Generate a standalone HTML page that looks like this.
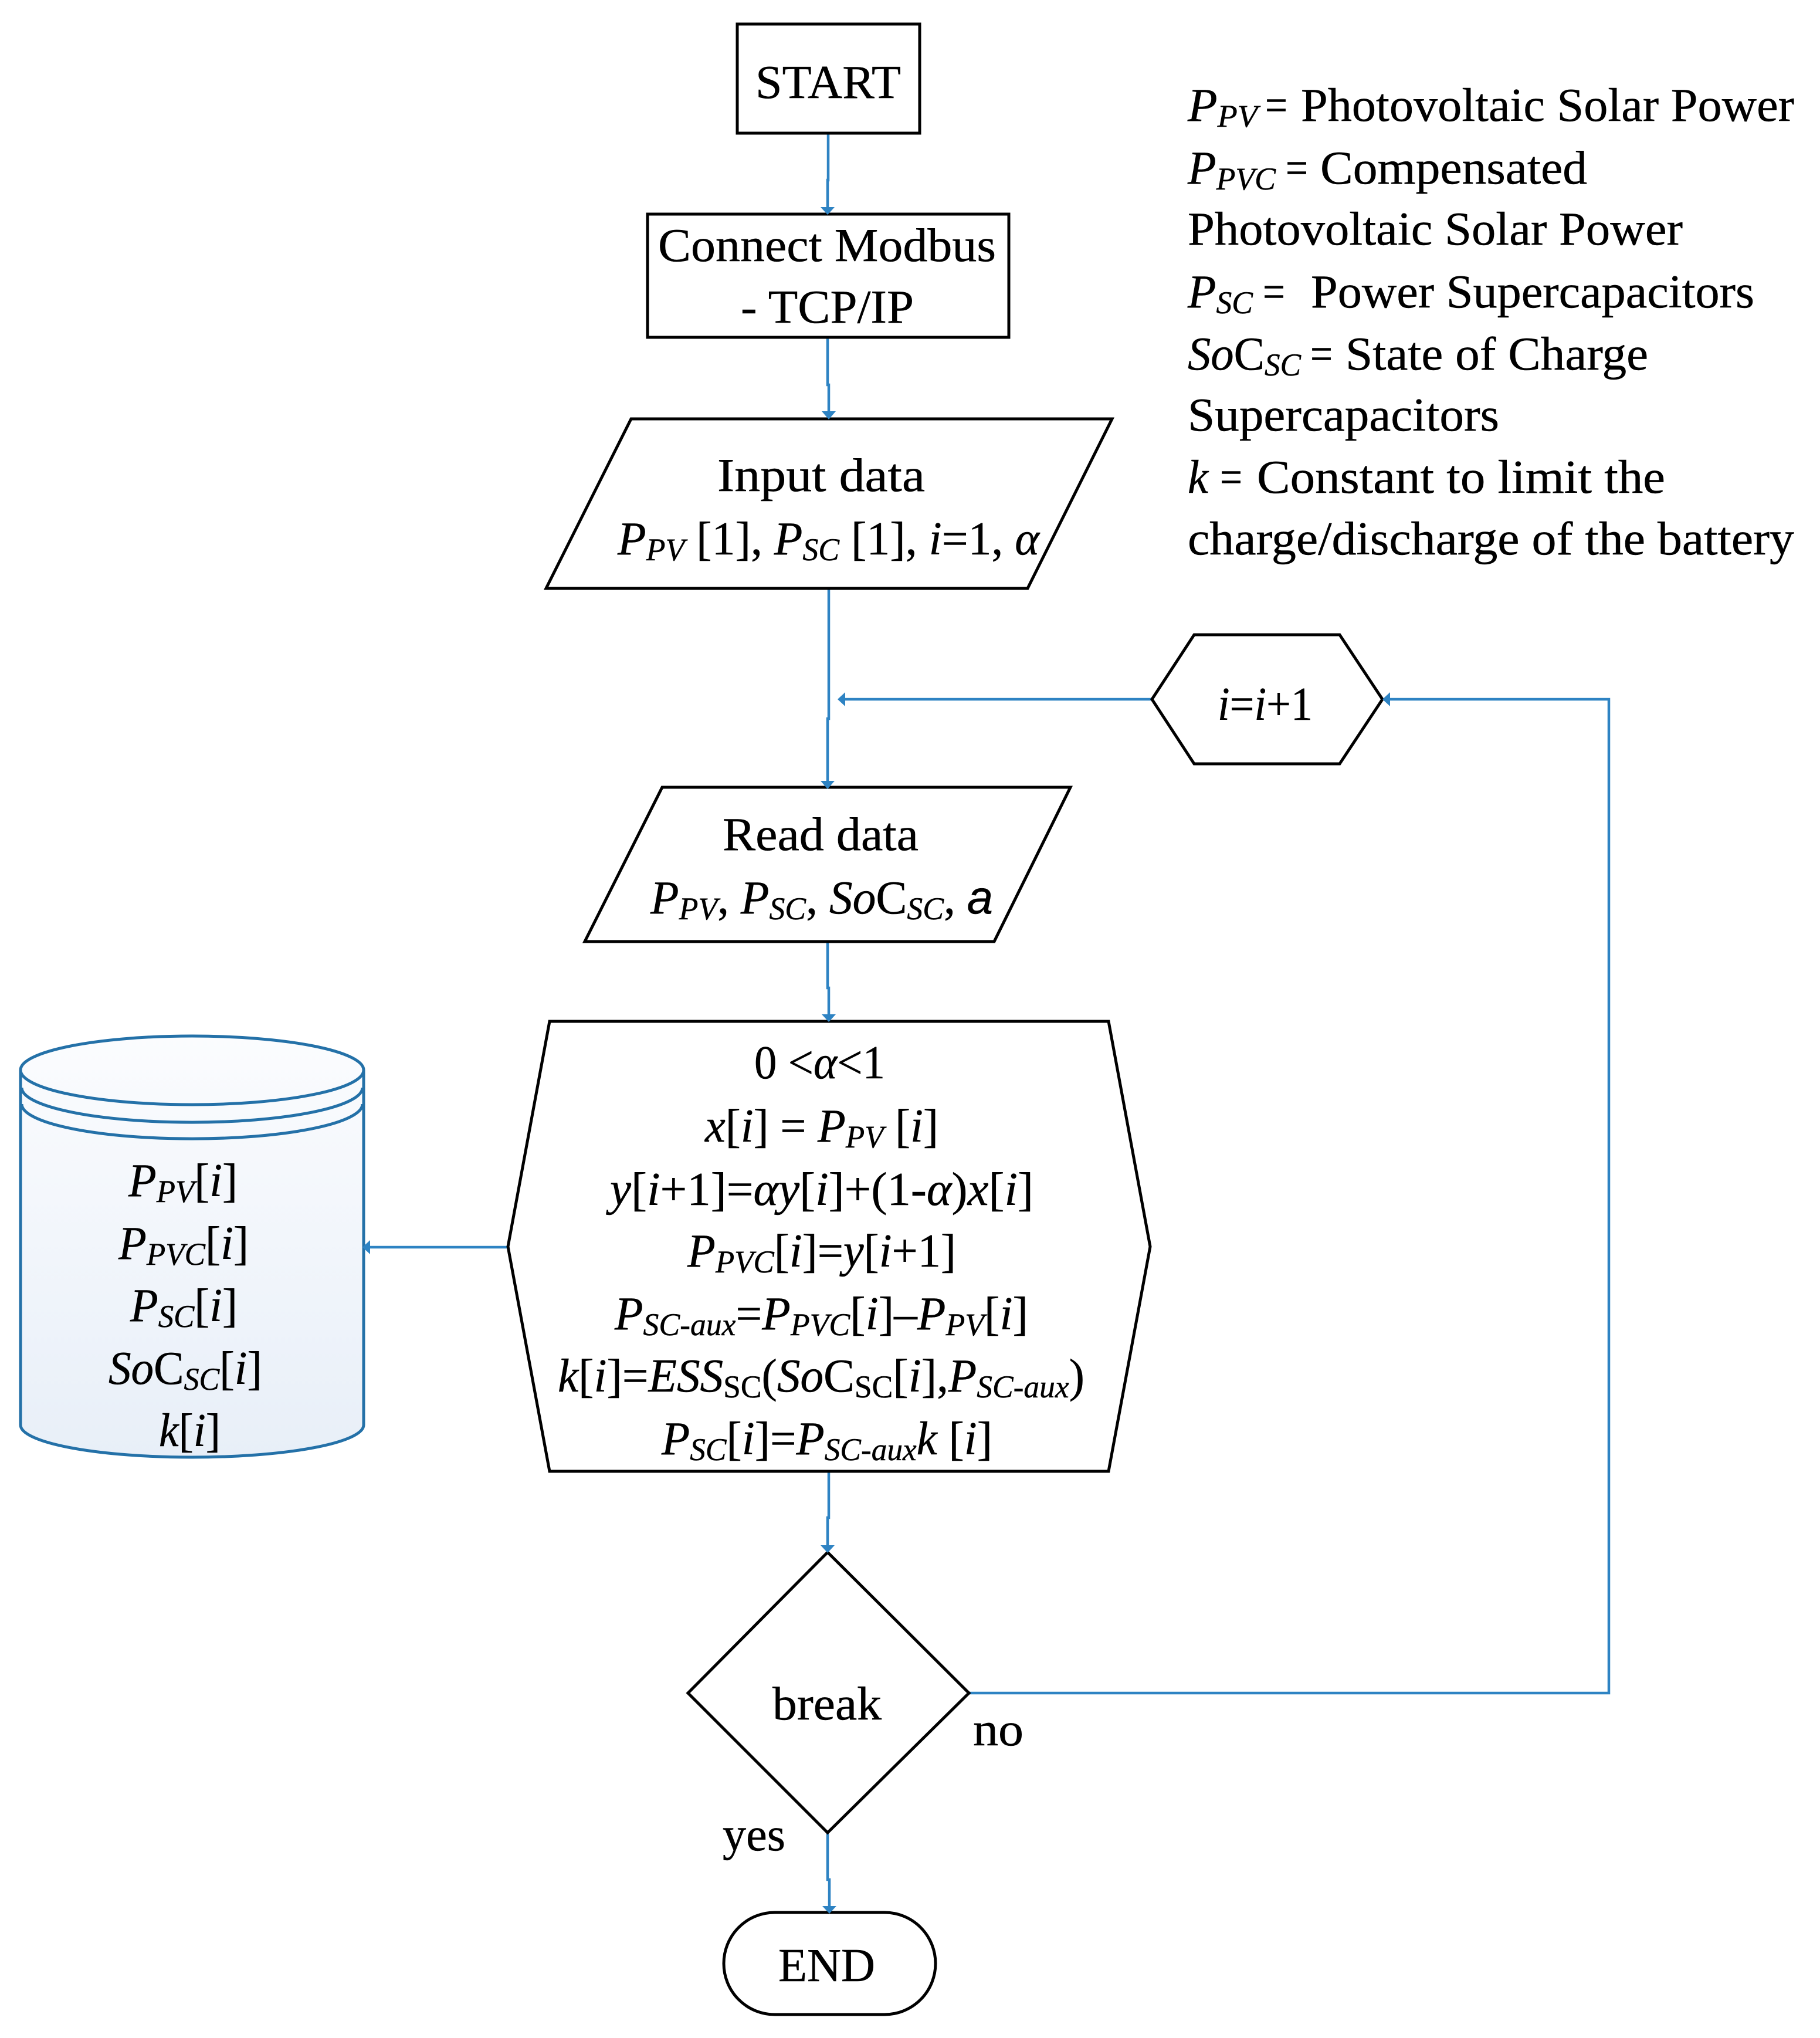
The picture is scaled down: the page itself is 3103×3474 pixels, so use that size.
<!DOCTYPE html>
<html lang="en"><head><meta charset="utf-8"><title>Flowchart</title>
<style>
html,body{margin:0;padding:0;background:#fff}
svg{display:block}
text{font-family:"Liberation Serif",serif;font-size:80px;fill:#000;stroke:#000;stroke-width:.5}
.i{font-style:italic}
.s{font-size:54px;font-style:italic}
.n{font-size:54px}
.c{fill:none;stroke:#2e83c3;stroke-width:4.5}
.b{fill:#fff;stroke:#000;stroke-width:5;stroke-linejoin:miter}
.a{fill:#2e83c3}
.cy{stroke:#2471a8;stroke-width:5}
</style></head><body>
<svg xmlns="http://www.w3.org/2000/svg" width="3103" height="3474" viewBox="0 0 3103 3474">
<defs><linearGradient id="g" x1="0" y1="0" x2="0" y2="1"><stop offset="0" stop-color="#fbfcfe"/><stop offset="1" stop-color="#e8eff8"/></linearGradient></defs>
<rect width="3103" height="3474" fill="#fff"/>

<!-- connectors -->
<path class="c" d="M1412 228V307H1411V355"/>
<path class="c" d="M1411 575V656H1413V703"/>
<path class="c" d="M1413 1003V1225H1411V1333"/>
<path class="c" d="M1964 1192H1438"/>
<path class="c" d="M1411 1605V1684H1413V1731"/>
<path class="c" d="M1413 2508V2587H1411V2636"/>
<path class="c" d="M1411 3124V3204H1414V3251"/>
<path class="c" d="M866 2126H628"/>
<path class="c" d="M1652 2886H2743V1192H2367"/>

<!-- shapes -->
<rect class="b" x="1257" y="41" width="311" height="186"/>
<rect class="b" x="1104" y="365" width="616" height="210"/>
<polygon class="b" points="1076,714 1896,714 1752,1003 931,1003"/>
<polygon class="b" points="1964,1192 2036,1082 2284,1082 2357,1192 2284,1302 2036,1302"/>
<polygon class="b" points="1129,1342 1825,1342 1695,1605 997,1605"/>
<polygon class="b" points="937,1741 1890,1741 1961,2125 1890,2508 937,2508 866,2125"/>
<polygon class="b" points="1411,2646 1652,2886 1411,3124 1173,2886"/>
<rect class="b" x="1234" y="3260" width="361" height="174" rx="87" ry="87"/>

<!-- cylinder -->
<path class="cy" fill="url(#g)" d="M35 1824A292.5 58 0 0 1 620 1824V2429A292.5 55 0 0 1 35 2429Z"/>
<path class="cy" fill="none" d="M35 1824A292.5 59 0 0 0 620 1824"/>
<path class="cy" fill="none" d="M37 1854A290 59 0 0 0 618 1854"/>
<path class="cy" fill="none" d="M37 1882A290 59 0 0 0 618 1882"/>

<!-- arrowheads -->
<polygon class="a" points="1399,353 1423,353 1411,366"/>
<polygon class="a" points="1401,701 1425,701 1413,715"/>
<polygon class="a" points="1399,1331 1423,1331 1411,1345"/>
<polygon class="a" points="1441,1180 1441,1204 1428,1192"/>
<polygon class="a" points="1401,1729 1425,1729 1413,1742"/>
<polygon class="a" points="1399,2634 1423,2634 1411,2647"/>
<polygon class="a" points="1402,3249 1426,3249 1414,3262"/>
<polygon class="a" points="631,2114 631,2138 618,2126"/>
<polygon class="a" points="2370,1180 2370,1204 2357,1192"/>

<!-- labels -->
<text x="1288" y="167" textLength="248" lengthAdjust="spacingAndGlyphs">START</text>
<text x="1122" y="445" textLength="576" lengthAdjust="spacingAndGlyphs">Connect Modbus</text>
<text x="1263" y="550" textLength="295" lengthAdjust="spacingAndGlyphs">- TCP/IP</text>
<text x="1223" y="837" textLength="354" lengthAdjust="spacingAndGlyphs">Input data</text>
<text x="1053" y="945" textLength="719" lengthAdjust="spacingAndGlyphs"><tspan class="i">P</tspan><tspan class="s" dy="10">PV</tspan><tspan dy="-10"> [1], </tspan><tspan class="i">P</tspan><tspan class="s" dy="10">SC</tspan><tspan dy="-10"> [1], </tspan><tspan class="i">i</tspan>=1, <tspan class="i">α</tspan></text>

<text x="2076" y="1227" textLength="162" lengthAdjust="spacingAndGlyphs"><tspan class="i">i</tspan>=<tspan class="i">i</tspan>+1</text>

<text x="1232" y="1449" textLength="334" lengthAdjust="spacingAndGlyphs">Read data</text>
<text x="1109" y="1557" textLength="584" lengthAdjust="spacingAndGlyphs"><tspan class="i">P</tspan><tspan class="s" dy="10">PV</tspan><tspan dy="-10">, </tspan><tspan class="i">P</tspan><tspan class="s" dy="10">SC</tspan><tspan dy="-10">, </tspan><tspan class="i">S</tspan><tspan class="i">o</tspan>C<tspan class="s" dy="10">SC</tspan><tspan dy="-10">, </tspan><tspan class="i" style="font-family:'Liberation Sans',sans-serif">a</tspan></text>

<!-- legend -->
<text x="2025" y="206" textLength="119" lengthAdjust="spacingAndGlyphs"><tspan class="i">P</tspan><tspan class="s" dy="10">PV</tspan></text>
<text x="2157" y="206" textLength="38" lengthAdjust="spacingAndGlyphs">=</text>
<text x="2218" y="206" textLength="841" lengthAdjust="spacingAndGlyphs">Photovoltaic Solar Power</text>

<text x="2025" y="313" textLength="150" lengthAdjust="spacingAndGlyphs"><tspan class="i">P</tspan><tspan class="s" dy="10">PVC</tspan></text>
<text x="2192" y="313" textLength="38" lengthAdjust="spacingAndGlyphs">=</text>
<text x="2251" y="313" textLength="455" lengthAdjust="spacingAndGlyphs">Compensated</text>

<text x="2025" y="417" textLength="844" lengthAdjust="spacingAndGlyphs">Photovoltaic Solar Power</text>

<text x="2025" y="524" textLength="111" lengthAdjust="spacingAndGlyphs"><tspan class="i">P</tspan><tspan class="s" dy="10">SC</tspan></text>
<text x="2153" y="524" textLength="38" lengthAdjust="spacingAndGlyphs">=</text>
<text x="2235" y="524" textLength="756" lengthAdjust="spacingAndGlyphs">Power Supercapacitors</text>

<text x="2025" y="630" textLength="193" lengthAdjust="spacingAndGlyphs"><tspan class="i">So</tspan>C<tspan class="s" dy="10">SC</tspan></text>
<text x="2234" y="630" textLength="38" lengthAdjust="spacingAndGlyphs">=</text>
<text x="2294" y="630" textLength="516" lengthAdjust="spacingAndGlyphs">State of Charge</text>

<text x="2025" y="734" textLength="531" lengthAdjust="spacingAndGlyphs">Supercapacitors</text>

<text x="2025" y="840" class="i" textLength="35" lengthAdjust="spacingAndGlyphs">k</text>
<text x="2080" y="840" textLength="38" lengthAdjust="spacingAndGlyphs">=</text>
<text x="2143" y="840" textLength="696" lengthAdjust="spacingAndGlyphs">Constant to limit the</text>

<text x="2025" y="945" textLength="1034" lengthAdjust="spacingAndGlyphs">charge/discharge of the battery</text>

<!-- big hexagon -->
<text x="1286" y="1838" textLength="223" lengthAdjust="spacingAndGlyphs">0 &lt;<tspan class="i">α</tspan>&lt;1</text>
<text x="1202" y="1946" textLength="398" lengthAdjust="spacingAndGlyphs"><tspan class="i">x</tspan>[<tspan class="i">i</tspan>] = <tspan class="i">P</tspan><tspan class="s" dy="10">PV</tspan><tspan dy="-10"> [</tspan><tspan class="i">i</tspan>]</text>
<text x="1040" y="2054" textLength="722" lengthAdjust="spacingAndGlyphs"><tspan class="i">y</tspan>[<tspan class="i">i</tspan>+1]=<tspan class="i">αy</tspan>[<tspan class="i">i</tspan>]+(1-<tspan class="i">α</tspan>)<tspan class="i">x</tspan>[<tspan class="i">i</tspan>]</text>
<text x="1172" y="2159" textLength="458" lengthAdjust="spacingAndGlyphs"><tspan class="i">P</tspan><tspan class="s" dy="10">PVC</tspan><tspan dy="-10">[</tspan><tspan class="i">i</tspan>]=<tspan class="i">y</tspan>[<tspan class="i">i</tspan>+1]</text>
<text x="1048" y="2266" textLength="705" lengthAdjust="spacingAndGlyphs"><tspan class="i">P</tspan><tspan class="s" dy="10">SC-aux</tspan><tspan dy="-10">=</tspan><tspan class="i">P</tspan><tspan class="s" dy="10">PVC</tspan><tspan dy="-10">[</tspan><tspan class="i">i</tspan>]–<tspan class="i">P</tspan><tspan class="s" dy="10">PV</tspan><tspan dy="-10">[</tspan><tspan class="i">i</tspan>]</text>
<text x="951" y="2372" textLength="898" lengthAdjust="spacingAndGlyphs"><tspan class="i">k</tspan>[<tspan class="i">i</tspan>]=<tspan class="i">ESS</tspan><tspan class="n" dy="10">SC</tspan><tspan dy="-10">(</tspan><tspan class="i">So</tspan>C<tspan class="n" dy="10">SC</tspan><tspan dy="-10">[</tspan><tspan class="i">i</tspan>],<tspan class="i">P</tspan><tspan class="s" dy="10">SC-aux</tspan><tspan dy="-10">)</tspan></text>
<text x="1128" y="2479" textLength="564" lengthAdjust="spacingAndGlyphs"><tspan class="i">P</tspan><tspan class="s" dy="10">SC</tspan><tspan dy="-10">[</tspan><tspan class="i">i</tspan>]=<tspan class="i">P</tspan><tspan class="s" dy="10">SC-aux</tspan><tspan class="i" dy="-10">k</tspan> [<tspan class="i">i</tspan>]</text>

<!-- cylinder text -->
<text x="219" y="2039" textLength="186" lengthAdjust="spacingAndGlyphs"><tspan class="i">P</tspan><tspan class="s" dy="10">PV</tspan><tspan dy="-10">[</tspan><tspan class="i">i</tspan>]</text>
<text x="202" y="2146" textLength="222" lengthAdjust="spacingAndGlyphs"><tspan class="i">P</tspan><tspan class="s" dy="10">PVC</tspan><tspan dy="-10">[</tspan><tspan class="i">i</tspan>]</text>
<text x="222" y="2252" textLength="183" lengthAdjust="spacingAndGlyphs"><tspan class="i">P</tspan><tspan class="s" dy="10">SC</tspan><tspan dy="-10">[</tspan><tspan class="i">i</tspan>]</text>
<text x="185" y="2359" textLength="262" lengthAdjust="spacingAndGlyphs"><tspan class="i">So</tspan>C<tspan class="s" dy="10">SC</tspan><tspan dy="-10">[</tspan><tspan class="i">i</tspan>]</text>
<text x="271" y="2465" textLength="105" lengthAdjust="spacingAndGlyphs"><tspan class="i">k</tspan>[<tspan class="i">i</tspan>]</text>

<text x="1317" y="2931" textLength="186" lengthAdjust="spacingAndGlyphs">break</text>
<text x="1659" y="2975" textLength="86" lengthAdjust="spacingAndGlyphs">no</text>
<text x="1232" y="3154" textLength="107" lengthAdjust="spacingAndGlyphs">yes</text>
<text x="1327" y="3377" textLength="165" lengthAdjust="spacingAndGlyphs">END</text>
</svg>
</body></html>
